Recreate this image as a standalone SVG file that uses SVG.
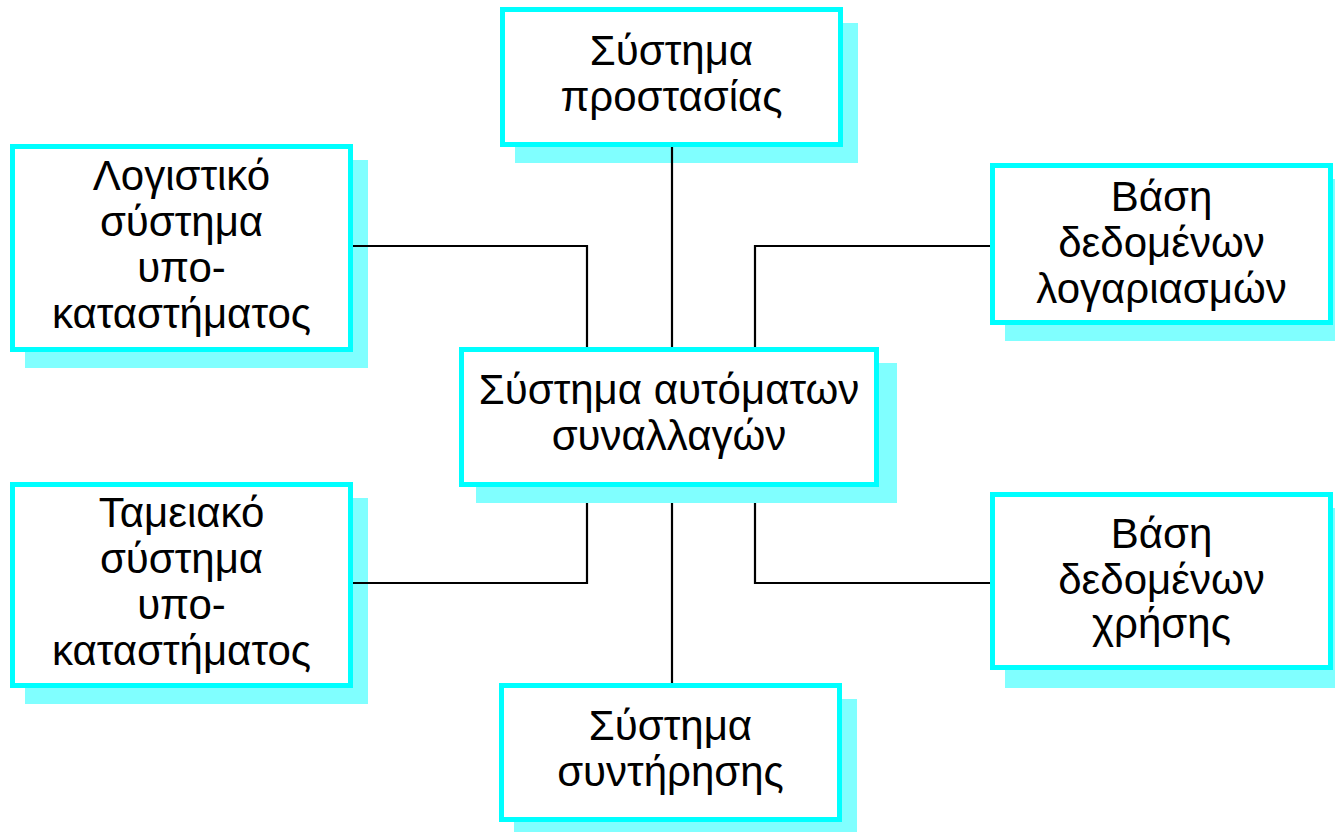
<svg xmlns="http://www.w3.org/2000/svg" width="1335" height="832" viewBox="0 0 1335 832">
<style>
.bg{fill:#ffffff}
.sh{fill:#80ffff;stroke:none}
.box{fill:#ffffff;stroke:#00ffff;stroke-width:5}
.t{font-family:"Liberation Sans",Arial,sans-serif;font-size:42px;fill:#000000;text-anchor:middle}
.ln{fill:none;stroke:#000000;stroke-width:2.2}
</style>
<rect class="bg" x="0" y="0" width="1335" height="832"/>
<g id="shadows">
<rect class="sh" x="515" y="23" width="343" height="140"/>
<rect class="sh" x="25" y="160" width="343" height="208"/>
<rect class="sh" x="1005" y="179" width="343" height="162"/>
<rect class="sh" x="25" y="498" width="343" height="206"/>
<rect class="sh" x="1005" y="508" width="343" height="180"/>
<rect class="sh" x="514" y="699" width="343" height="140"/>
</g>
<g id="connectors">
<polyline class="ln" points="353,246 587,246 587,347"/>
<polyline class="ln" points="990,246 755,246 755,347"/>
<line class="ln" x1="672" y1="147" x2="672" y2="347"/>
<polyline class="ln" points="587,502 587,583 353,583"/>
<polyline class="ln" points="755,502 755,583 990,583"/>
<line class="ln" x1="672" y1="502" x2="672" y2="683"/>
</g>
<g id="n-top">
<rect class="box" x="502.5" y="9.5" width="338" height="135"/>
<text class="t" x="671.5" y="65">Σύστημα</text>
<text class="t" x="671.5" y="111">προστασίας</text>
</g>
<g id="n-left-top">
<rect class="box" x="12.5" y="146.5" width="338" height="203"/>
<text class="t" x="181.5" y="190">Λογιστικό</text>
<text class="t" x="181.5" y="236">σύστημα</text>
<text class="t" x="181.5" y="282">υπο-</text>
<text class="t" x="181.5" y="328">καταστήματος</text>
</g>
<g id="n-right-top">
<rect class="box" x="992.5" y="165.5" width="338" height="157"/>
<text class="t" x="1161.5" y="211">Βάση</text>
<text class="t" x="1161.5" y="257">δεδομένων</text>
<text class="t" x="1161.5" y="303">λογαριασμών</text>
</g>
<g id="n-center">
<rect class="sh" x="476" y="363" width="421" height="140"/>
<rect class="box" x="461.5" y="349.5" width="415" height="135"/>
<text class="t" x="669" y="404">Σύστημα αυτόματων</text>
<text class="t" x="669" y="450">συναλλαγών</text>
</g>
<g id="n-left-bottom">
<rect class="box" x="12.5" y="484.5" width="338" height="201"/>
<text class="t" x="181.5" y="527">Ταμειακό</text>
<text class="t" x="181.5" y="573">σύστημα</text>
<text class="t" x="181.5" y="619">υπο-</text>
<text class="t" x="181.5" y="665">καταστήματος</text>
</g>
<g id="n-right-bottom">
<rect class="box" x="992.5" y="494.5" width="338" height="173"/>
<text class="t" x="1161.5" y="548">Βάση</text>
<text class="t" x="1161.5" y="594">δεδομένων</text>
<text class="t" x="1161.5" y="638">χρήσης</text>
</g>
<g id="n-bottom">
<rect class="box" x="501.5" y="685.5" width="338" height="134"/>
<text class="t" x="670.5" y="740">Σύστημα</text>
<text class="t" x="670.5" y="786">συντήρησης</text>
</g>
</svg>
